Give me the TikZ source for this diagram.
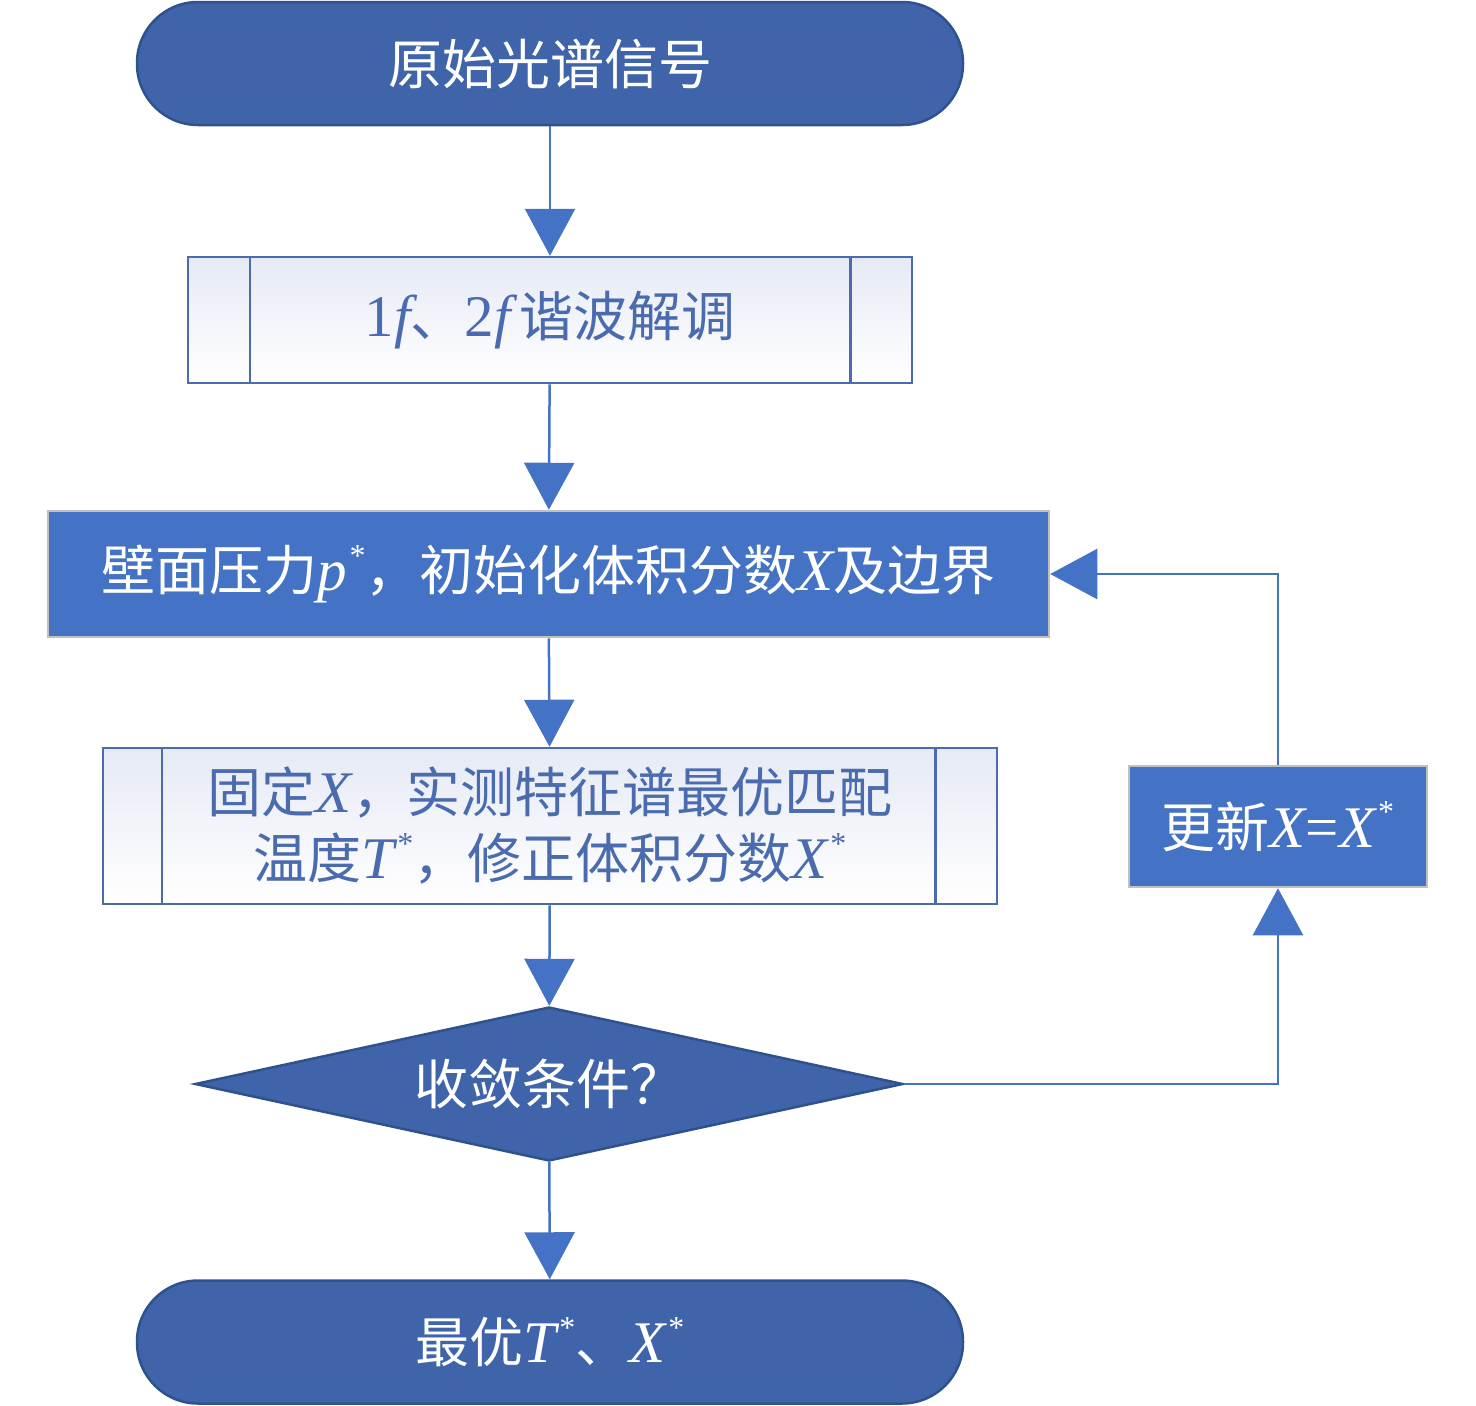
\documentclass[tikz,border=0pt]{standalone}
\usepackage{fontspec}
\setmainfont{Liberation Serif}
\newfontfamily\cjk{Noto Sans CJK SC}
\usetikzlibrary{shapes.geometric,arrows.meta,calc}
\definecolor{dkblue}{HTML}{3F64AA}
\definecolor{dkedge}{HTML}{2F528F}
\definecolor{midblue}{HTML}{4472C4}
\definecolor{edgeblue}{HTML}{4A6BAE}
\definecolor{greyedge}{HTML}{C0C0C0}
\definecolor{pale}{HTML}{E6EAF5}
\newcommand\lat[1]{{\rmfamily\itshape\fontsize{59}{66}\selectfont #1}}
\newcommand\upr[1]{{\rmfamily\fontsize{59}{66}\selectfont #1}}
\newcommand\mystar{\kern3pt\raisebox{0.45em}{\rmfamily\fontsize{32}{32}\selectfont *}}
\tikzset{
  base/.style={font=\cjk\fontsize{54}{66}\selectfont, inner sep=0pt, align=center},
  term/.style={base, draw=dkedge, line width=2.5pt, fill=dkblue, rounded corners=61pt,
    minimum width=826pt, minimum height=123pt, text=white},
  subp/.style={base, draw=edgeblue, line width=2.5pt, top color=pale, bottom color=white,
    text=edgeblue},
  proc/.style={base, draw=greyedge, line width=2.5pt, fill=midblue, text=white},
  decis/.style={base, diamond, draw=dkedge, line width=2.5pt, fill=dkblue, text=white,
    minimum width=708pt, minimum height=154pt, aspect=4.6},
  conn/.style={draw=midblue, line width=2.5pt, -{Triangle[length=47pt,width=50pt]}},
  inner/.style={draw=edgeblue, line width=2.5pt}
}
\begin{document}
\begin{tikzpicture}[x=1pt,y=-1pt]
\useasboundingbox (0,0) rectangle (1476,1406);
\node[term] (t1) at (550,63.5) {原始光谱信号};
\node[subp, minimum width=724pt, minimum height=126pt] (b2) at (550,320) {\upr{1}\lat{f}、\upr{2}\lat{f}\,谐波解调};
\draw[inner] ($(b2.north west)+(63,0)$) -- ($(b2.south west)+(63,0)$);
\draw[inner] ($(b2.north east)+(-63,0)$) -- ($(b2.south east)+(-63,0)$);
\node[proc, minimum width=1001pt, minimum height=126pt] (b3) at (548.5,574) {壁面压力\lat{p}\mystar，初始化体积分数\lat{X}及边界};
\node[subp, minimum width=894pt, minimum height=156pt] (b4) at (550,826) {固定\lat{X}，实测特征谱最优匹配\\温度\lat{T}\mystar，修正体积分数\lat{X}\mystar};
\draw[inner] ($(b4.north west)+(60,0)$) -- ($(b4.south west)+(60,0)$);
\draw[inner] ($(b4.north east)+(-63,0)$) -- ($(b4.south east)+(-63,0)$);
\node[decis] (dec) at (549,1084) {收敛条件？};
\node[term] (t2) at (550,1342) {最优\lat{T}\mystar、\lat{X}\mystar};
\node[proc, minimum width=298pt, minimum height=121pt] (upd) at (1278,826.5) {更新\lat{X}\upr{=}\lat{X}\mystar};
\draw[conn] (t1) -- (b2);
\draw[conn] (b2) -- (b3);
\draw[conn] (b3) -- (b4);
\draw[conn] (b4) -- (dec);
\draw[conn] (dec) -- (t2);
\draw[conn] (dec.east) -| (upd.south);
\draw[conn] (upd.north) |- (b3.east);
\end{tikzpicture}
\end{document}
